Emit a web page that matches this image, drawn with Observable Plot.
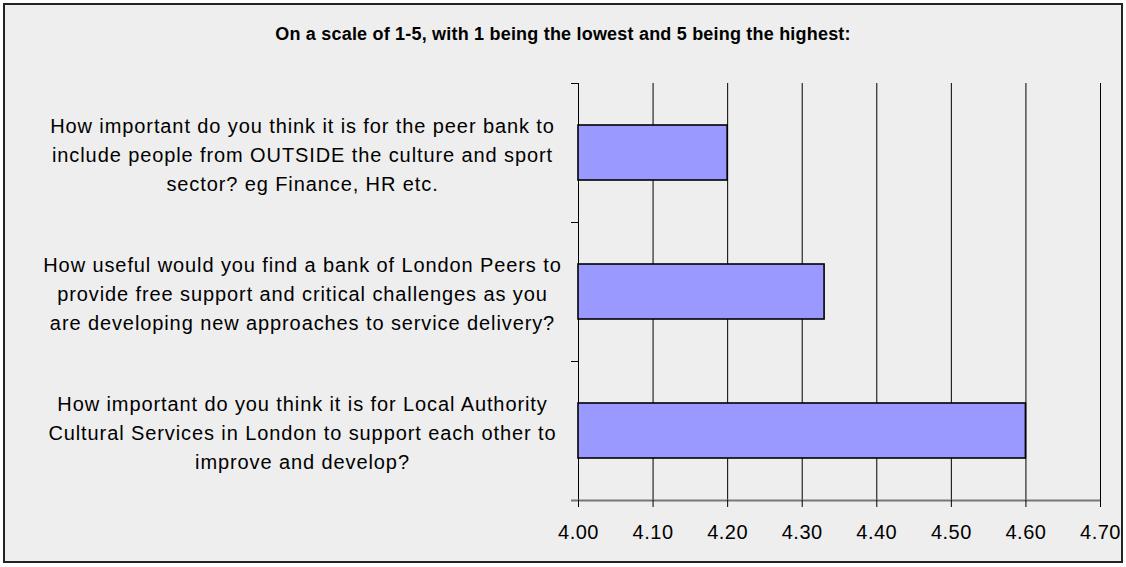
<!DOCTYPE html>
<html><head><meta charset="utf-8">
<script src="https://cdn.jsdelivr.net/npm/d3@7"></script>
<script src="https://cdn.jsdelivr.net/npm/@observablehq/plot@0.6"></script>
<style>
body{margin:0;background:#fff;font-family:"Liberation Sans",Arial,sans-serif;}
#wrap{position:relative;width:1126px;height:567px;overflow:hidden;}
#frame{position:absolute;left:3px;top:3px;width:1116px;height:556px;border:2px solid #222;background:#eeeeee;}
#title{position:absolute;left:0;top:24px;width:1126px;text-align:center;font-weight:bold;font-size:18px;color:#000;letter-spacing:0.2px;}
#chart{position:absolute;left:0;top:0;}
</style></head><body>
<div id="wrap"><div id="frame"></div><div id="title">On a scale of 1-5, with 1 being the lowest and 5 being the highest:</div><div id="chart"></div></div>
<script>
const categories = ["outside", "london_peers", "support"];
const labels = [
  "How important do you think it is for the peer bank to\ninclude people from OUTSIDE the culture and sport\nsector? eg Finance, HR etc.",
  "How useful would you find a bank of London Peers to\nprovide free support and critical challenges as you\nare developing new approaches to service delivery?",
  "How important do you think it is for Local Authority\nCultural Services in London to support each other to\nimprove and develop?"
];
const values = [4.20, 4.33, 4.60];
const xTicks = [4.0, 4.1, 4.2, 4.3, 4.4, 4.5, 4.6, 4.7];

const data = categories.map((c, i) => ({category: c, label: labels[i], value: values[i]}));
const W = 1126, H = 567, mT = 83, mB = 67;
const step = (H - mT - mB) / categories.length;

const chart = Plot.plot({
  width: W, height: H,
  marginLeft: 578, marginRight: 26, marginTop: mT, marginBottom: mB,
  style: {background: "transparent", fontFamily: "'Liberation Sans', Arial, sans-serif", fontSize: "18px", color: "#000", overflow: "visible"},
  x: {domain: [xTicks[0], xTicks[xTicks.length - 1]]},
  y: {domain: categories, padding: 0, label: null},
  marks: [
    Plot.ruleX(xTicks, {stroke: "#000", strokeWidth: 1}),
    Plot.barX(data, {x1: xTicks[0], x2: "value", y: "category", fill: "#9999ff", stroke: "#000", strokeWidth: 1.6, insetTop: 42, insetBottom: 42}),
    Plot.ruleY([categories[categories.length - 1]], {dy: step / 2, stroke: "#777", strokeWidth: 2, insetLeft: -7}),
    Plot.axisY(categories, {tickSize: 7, tickFormat: () => "", dy: -step / 2, stroke: "#000", label: null}),
    Plot.axisX(xTicks, {tickSize: 7, tickPadding: 17, tickFormat: d3.format(".2f"), fontSize: 20, label: null, stroke: "#000"}),
    Plot.text(data, {y: "category", text: "label", frameAnchor: "left", dx: -276, textAnchor: "middle", lineHeight: 1.45, fontSize: 20, fill: "#000"})
  ]
});
document.getElementById("chart").appendChild(chart);
d3.select(chart).selectAll("g[aria-label='text'] text").style("letter-spacing", "0.9px");
d3.select(chart).selectAll("g[aria-label='x-axis tick label'] text").style("letter-spacing", "0.5px");
</script>
</body></html>
